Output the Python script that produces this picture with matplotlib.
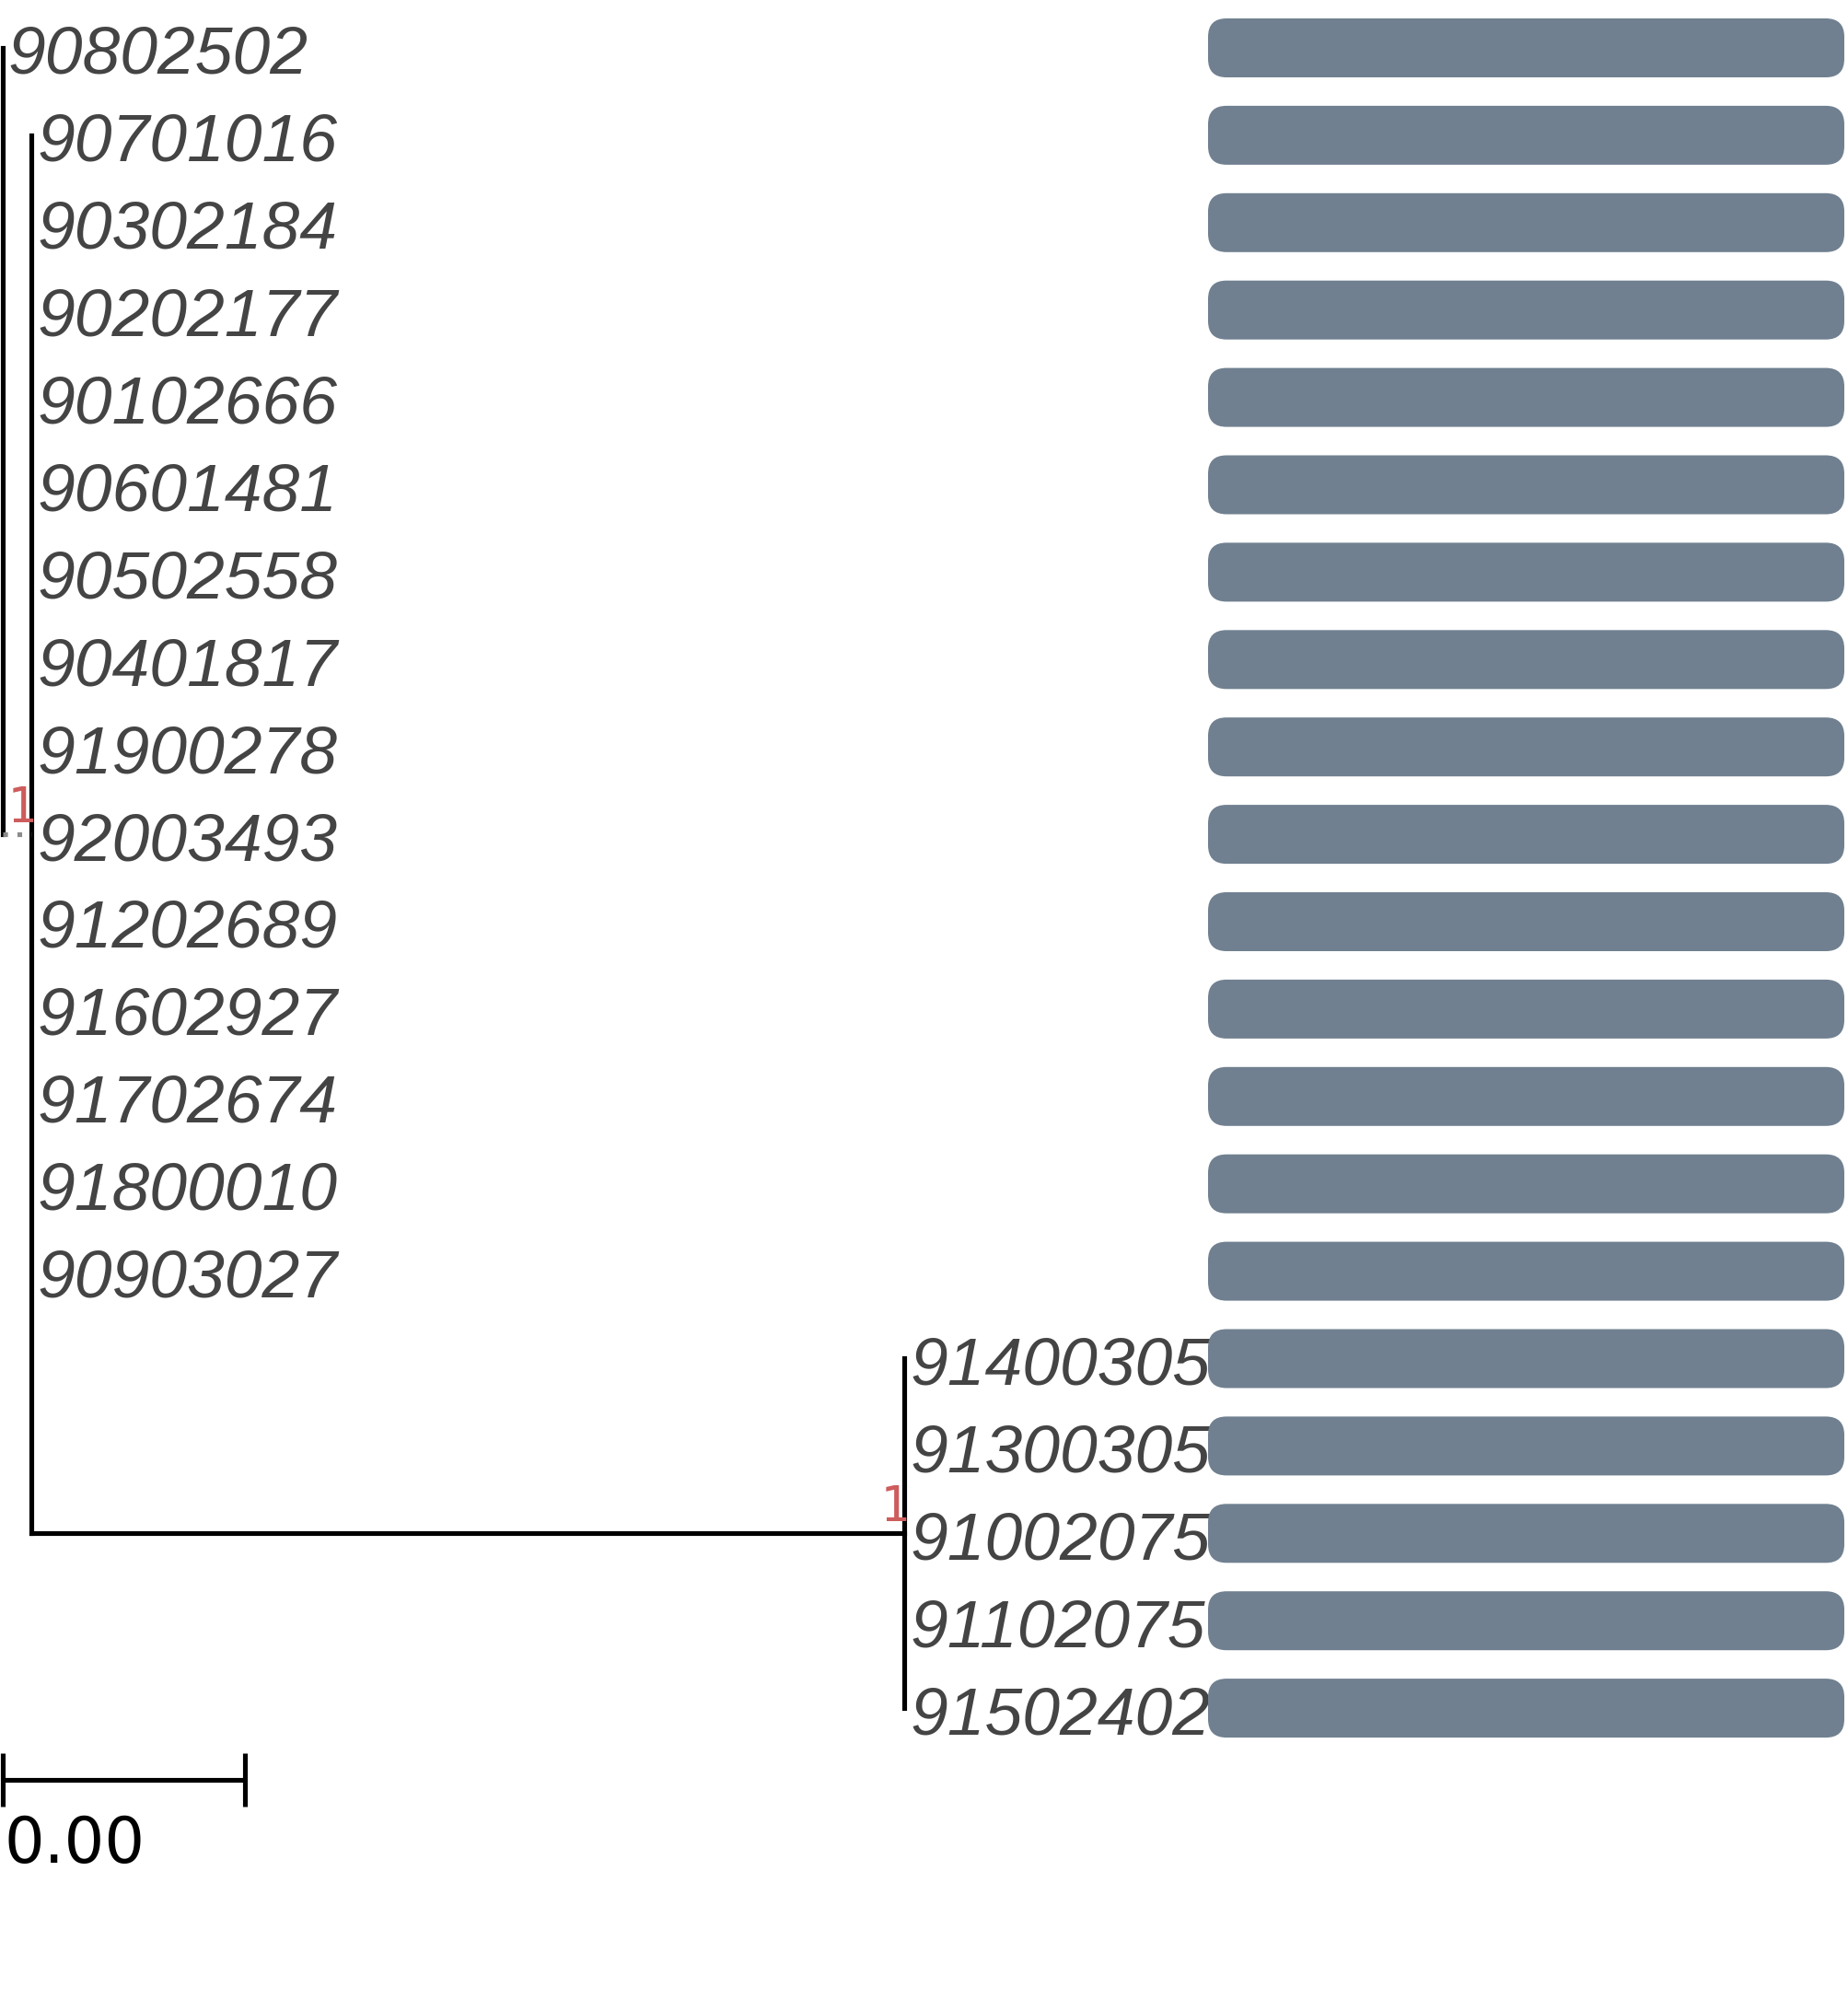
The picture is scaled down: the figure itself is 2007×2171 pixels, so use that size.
import matplotlib
matplotlib.use('Agg')
import matplotlib.pyplot as plt
from matplotlib.patches import FancyBboxPatch

# Tips, top to bottom, and the clade (internal node) each one hangs from
tip_labels = [
    '90802502', '90701016', '90302184', '90202177', '90102666',
    '90601481', '90502558', '90401817', '91900278', '92003493',
    '91202689', '91602927', '91702674', '91800010', '90903027',
    '91400305', '91300305', '91002075', '91102075', '91502402',
]
tip_clade = ['root'] + ['inner'] * 14 + ['sub'] * 5

# Internal nodes: depth from root (substitutions/site), parent and support
node_depth = {'root': 0.0, 'inner': 0.000121, 'sub': 0.003719}
node_parent = {'inner': 'root', 'sub': 'inner'}
node_support = {'inner': 1, 'sub': 1}

# Side panel: one bar per tip
bar_value = [1, 1, 1, 1, 1, 1, 1, 1, 1, 1, 1, 1, 1, 1, 1, 1, 1, 1, 1, 1]

scale_width = 0.001

W, H, DPI = 2007, 2171, 100
ROW_PX = 94.9          # vertical distance between tips
TOP_PX = 52            # centre of first tip from top
PX_PER_UNIT = 263500   # pixels per unit of branch length
ROOT_PX = 2.5

LINE = {'color': 'black', 'linewidth': 3.7, 'solid_capstyle': 'projecting'}
LABEL = {'fontsize': 52.8, 'fontstyle': 'italic', 'family': 'Liberation Sans',
         'color': '#444444'}
SUPPORT = {'fontsize': 38, 'family': 'DejaVu Sans Mono', 'color': '#CD5C5C'}
BAR_COLOR = '#708090'


def node_span(node):
    'Lowest and highest row among the children of a node'
    ys = [i for i, c in enumerate(tip_clade) if c == node]
    ys += [node_y(child) for child, p in node_parent.items() if p == node]
    return min(ys), max(ys)


def node_y(node):
    lo, hi = node_span(node)
    return 0.5 * (lo + hi)


fig = plt.figure(figsize=(W / DPI, H / DPI), dpi=DPI)
ax = fig.add_axes([0, 0, 1, 1])
ax.axis('off')
ax.set_xlim(-ROOT_PX / PX_PER_UNIT, (W - ROOT_PX) / PX_PER_UNIT)
ylim = ((H - TOP_PX) / ROW_PX, -TOP_PX / ROW_PX)
ax.set_ylim(*ylim)

# vertical connectors
for node, x in node_depth.items():
    lo, hi = node_span(node)
    ax.plot([x, x], [lo, hi], **LINE)

# edges between internal nodes
for child, parent in node_parent.items():
    y = node_y(child)
    x0, x1 = node_depth[parent], node_depth[child]
    if parent == 'root':
        ax.plot([x0, x1], [y, y], color='#8c8c8c', linewidth=3.7,
                linestyle=(0, (1, 2)), dash_capstyle='butt')
    else:
        ax.plot([x0, x1], [y, y], **LINE)
    ax.annotate(str(node_support[child]), (x1, y), xytext=(5, 13),
                textcoords='offset pixels', ha='right', va='baseline',
                **SUPPORT)

# tip labels
for i, (label, clade) in enumerate(zip(tip_labels, tip_clade)):
    ax.annotate(label, (node_depth[clade], i), xytext=(6, -28),
                textcoords='offset pixels', ha='left', va='baseline', **LABEL)

# tree scale
yb = len(tip_labels) - 0.18
tick = 0.306
ax.plot([0, scale_width], [yb, yb], color='black', linewidth=3.7,
        solid_capstyle='butt')
for x in (0, scale_width):
    ax.plot([x, x], [yb - tick, yb + tick], color='black', linewidth=3.7,
            solid_capstyle='butt')
ax.annotate('%.2f' % scale_width, (0, yb), xytext=(2, -90),
            textcoords='offset pixels', ha='left', va='baseline',
            fontsize=49.5, family='DejaVu Sans', color='black')

# bar panel
bx0, bx1 = 1312, 2003
bax = fig.add_axes([bx0 / W, 0, (bx1 - bx0) / W, 1])
bax.axis('off')
bax.set_xlim(0, 1)
bax.set_ylim(*ylim)
bar_h = 64 / ROW_PX
aspect = (bx1 - bx0) / ROW_PX
radius = 20 / (bx1 - bx0)
for i, v in enumerate(bar_value):
    bax.add_patch(FancyBboxPatch((0, i - bar_h / 2), v, bar_h,
                                 boxstyle='round,pad=0,rounding_size=%f' % radius,
                                 mutation_aspect=aspect,
                                 facecolor=BAR_COLOR, edgecolor='none'))

fig.savefig('out.png', dpi=DPI)
